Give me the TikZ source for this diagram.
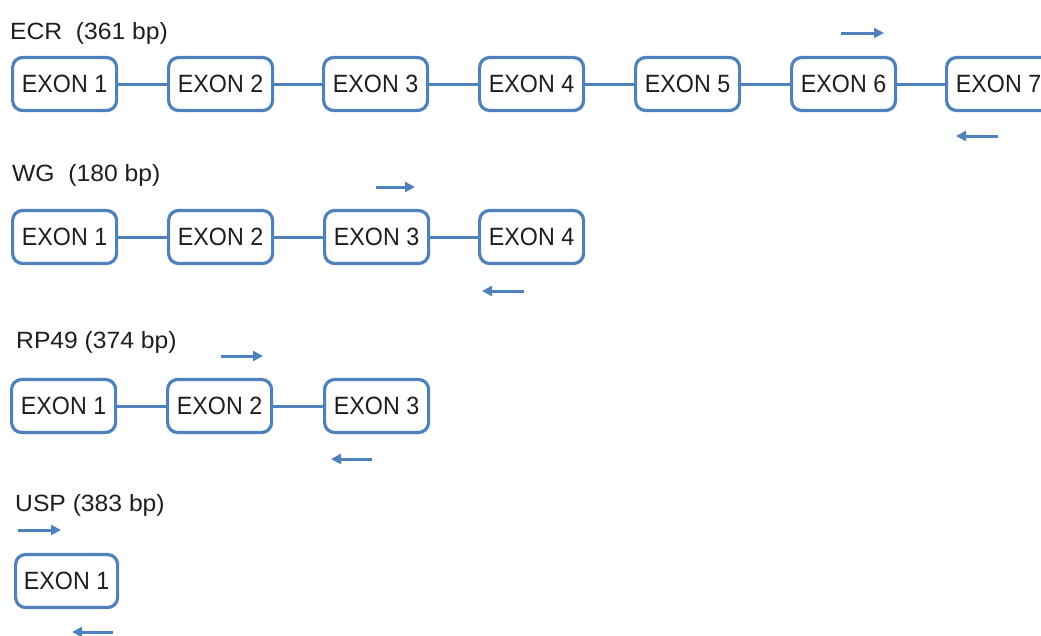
\documentclass[tikz,border=0pt]{standalone}
\usepackage{fontspec}
\setmainfont{Liberation Sans}
\usetikzlibrary{arrows.meta}
\definecolor{exonblue}{RGB}{79,129,189}
\definecolor{inktext}{RGB}{30,30,30}
\newcommand{\exontext}[1]{\scalebox{0.93}[1]{EXON #1}}
\newcommand{\genetext}[1]{\scalebox{1.05}[1]{#1}}
\begin{document}
\begin{tikzpicture}[x=1pt,y=-1pt,
  exon/.style={draw=exonblue, line width=3.2pt, rounded corners=10pt, fill=white,
    minimum width=104pt, minimum height=53pt, inner sep=0pt, text=inktext,
    font=\fontsize{25}{25}\selectfont},
  intron/.style={draw=exonblue, line width=3pt},
  primer/.style={draw=exonblue, line width=3pt,
    -{Triangle[length=10pt,width=10pt]}},
  genelabel/.style={anchor=base west, inner sep=0pt, text=inktext,
    font=\fontsize{23.5}{23.5}\selectfont}]
\useasboundingbox (0,0) rectangle (1041,635);
\clip (0,0) rectangle (1041,635);
\fill[white] (0,0) rectangle (1041,635);

% ECR gene: seven exons
\node[genelabel] (lECR) at (10,39) {\genetext{ECR~~(361 bp)}};
\foreach \i/\x in {1/11,2/167,3/322,4/478,5/634,6/790,7/945}{
  \node[exon, anchor=west] (e\i) at (\x,84) {\exontext{\i}};
}
\foreach \a/\b in {1/2,2/3,3/4,4/5,5/6,6/7}{
  \draw[intron] (e\a.east) -- (e\b.west);
}
\coordinate (ecrF1) at (841,33);  \coordinate (ecrF2) at (884,33);
\coordinate (ecrR1) at (998,136); \coordinate (ecrR2) at (956,136);
\draw[primer] (ecrF1) -- (ecrF2);
\draw[primer] (ecrR1) -- (ecrR2);

% WG gene: four exons
\node[genelabel] (lWG) at (12,181) {\genetext{WG~~(180 bp)}};
\foreach \i/\x in {1/11,2/167,3/323,4/478}{
  \node[exon, anchor=west] (w\i) at (\x,237) {\exontext{\i}};
}
\foreach \a/\b in {1/2,2/3,3/4}{
  \draw[intron] (w\a.east) -- (w\b.west);
}
\coordinate (wgF1) at (376,187); \coordinate (wgF2) at (415,187);
\coordinate (wgR1) at (524,291); \coordinate (wgR2) at (482,291);
\draw[primer] (wgF1) -- (wgF2);
\draw[primer] (wgR1) -- (wgR2);

% RP49 gene: three exons
\node[genelabel] (lRP) at (16,348) {\genetext{RP49 (374 bp)}};
\foreach \i/\x in {1/10,2/166,3/323}{
  \node[exon, anchor=west] (r\i) at (\x,406) {\exontext{\i}};
}
\foreach \a/\b in {1/2,2/3}{
  \draw[intron] (r\a.east) -- (r\b.west);
}
\coordinate (rpF1) at (221,356); \coordinate (rpF2) at (263,356);
\coordinate (rpR1) at (372,459); \coordinate (rpR2) at (331,459);
\draw[primer] (rpF1) -- (rpF2);
\draw[primer] (rpR1) -- (rpR2);

% USP gene: one exon
\node[genelabel] (lUSP) at (15,511) {\genetext{USP (383 bp)}};
\node[exon, anchor=west, minimum width=102pt] (u1) at (14,581) {\exontext{1}};
\coordinate (uspF1) at (18,530);  \coordinate (uspF2) at (61,530);
\coordinate (uspR1) at (113,632); \coordinate (uspR2) at (72,632);
\draw[primer] (uspF1) -- (uspF2);
\draw[primer] (uspR1) -- (uspR2);
\end{tikzpicture}
\end{document}
